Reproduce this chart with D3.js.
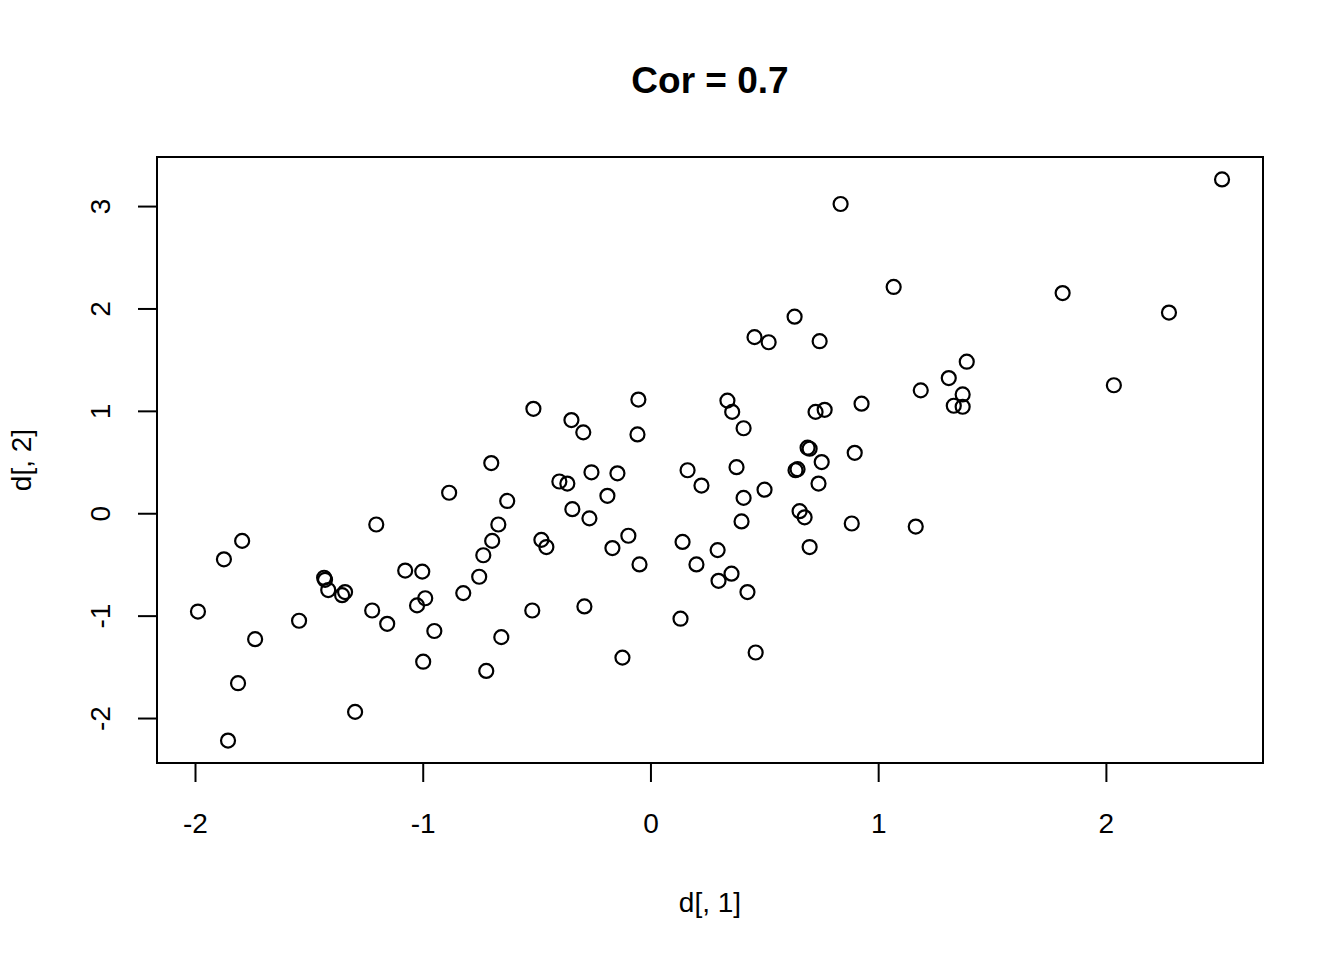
<!DOCTYPE html>
<html>
<head>
<meta charset="utf-8">
<script src="https://cdn.jsdelivr.net/npm/d3@7/dist/d3.min.js"></script>
<style>
  body { margin: 0; background: #fff; }
  text { font-family: "Liberation Sans", Arial, Helvetica, sans-serif; fill: #000; }
</style>
</head>
<body>
<svg id="chart" width="1344" height="960"></svg>
<script>
// d[, 1] and d[, 2] values
var xs = [2.51, 0.835, 1.068, 1.81, 2.277, 0.633, 0.457, 0.519, 0.743, 1.389,
  1.31, 1.187, 1.371, 2.035, 1.332, 1.371, 0.927, 0.338, 0.359, 0.725,
  0.765, -0.053, -0.514, -0.347, -0.295, -0.057, 0.409, 0.69, 0.699, 0.646,
  0.637, 0.378, 0.752, 0.897, -0.699, -0.259, -0.145, 0.163, 0.224, -0.4,
  -0.365, 0.738, 0.501, 0.409, -0.189, -0.884, -0.629, -0.343, -0.268, 0.655,
  0.677, 0.4, 0.884, 1.165, -1.204, -0.668, -1.793, -0.479, -0.457, -0.695,
  -0.097, 0.141, -0.167, 0.295, 0.699, -1.873, -0.734, -0.048, 0.202, -1.077,
  -1.002, 0.356, -0.752, -1.433, -1.429, 0.299, -1.415, -1.341, -1.354, -0.822,
  0.426, -0.989, -1.025, -0.29, -0.519, -1.987, -1.222, -1.543, -1.156, 0.132,
  -0.949, -0.655, -1.736, -0.998, -0.123, 0.462, -0.721, -1.811, -1.297, -1.855];
var ys = [3.26, 3.02, 2.21, 2.15, 1.96, 1.92, 1.72, 1.67, 1.68, 1.48,
  1.32, 1.2, 1.16, 1.25, 1.05, 1.04, 1.07, 1.1, 0.99, 0.99,
  1.01, 1.11, 1.02, 0.91, 0.79, 0.77, 0.83, 0.64, 0.63, 0.43,
  0.42, 0.45, 0.5, 0.59, 0.49, 0.4, 0.39, 0.42, 0.27, 0.31,
  0.29, 0.29, 0.23, 0.15, 0.17, 0.2, 0.12, 0.04, -0.05, 0.02,
  -0.04, -0.08, -0.1, -0.13, -0.11, -0.11, -0.27, -0.26, -0.33, -0.27,
  -0.22, -0.28, -0.34, -0.36, -0.33, -0.45, -0.41, -0.5, -0.5, -0.56,
  -0.57, -0.59, -0.62, -0.63, -0.65, -0.66, -0.75, -0.77, -0.8, -0.78,
  -0.77, -0.83, -0.9, -0.91, -0.95, -0.96, -0.95, -1.05, -1.08, -1.03,
  -1.15, -1.21, -1.23, -1.45, -1.41, -1.36, -1.54, -1.66, -1.94, -2.22];
var xTicks = [-2, -1, 0, 1, 2];
var yTicks = [-2, -1, 0, 1, 2, 3];
var title = 'Cor = 0.7';
var xLabel = 'd[, 1]';
var yLabel = 'd[, 2]';

var box = { left: 157, right: 1263, top: 157, bottom: 763 };
var svg = d3.select('#chart');

// R style: pad the data range by 4% on each side
function padded(v) {
  var ext = d3.extent(v), r = ext[1] - ext[0];
  return [ext[0] - 0.04 * r, ext[1] + 0.04 * r];
}
var x = d3.scaleLinear().domain(padded(xs)).range([box.left, box.right]);
var y = d3.scaleLinear().domain(padded(ys)).range([box.bottom, box.top]);
var plain = function (d) { return String(d); }; // hyphen minus, not unicode minus

svg.append('rect')
  .attr('x', box.left).attr('y', box.top)
  .attr('width', box.right - box.left).attr('height', box.bottom - box.top)
  .attr('fill', 'none').attr('stroke', '#000').attr('stroke-width', 2);

var xAxis = svg.append('g')
  .attr('transform', 'translate(0,' + box.bottom + ')')
  .call(d3.axisBottom(x).tickValues(xTicks).tickSize(19).tickPadding(31).tickFormat(plain));
var yAxis = svg.append('g')
  .attr('transform', 'translate(' + box.left + ',0)')
  .call(d3.axisLeft(y).tickValues(yTicks).tickSize(19).tickPadding(12).tickFormat(plain));

[xAxis, yAxis].forEach(function (g) {
  g.selectAll('path, line').attr('stroke', '#000').attr('stroke-width', 2);
  g.selectAll('text').style('font-size', '28px').attr('fill', '#000');
});
// axis line only spans the tick range, like R
xAxis.select('path.domain').attr('d', 'M' + x(-2) + ',0H' + x(2));
yAxis.select('path.domain').attr('d', 'M0,' + y(-2) + 'V' + y(3));

// y tick labels run vertically in R
yAxis.selectAll('.tick text')
  .attr('x', null).attr('dy', null)
  .attr('text-anchor', 'middle')
  .attr('transform', 'translate(-57,0) rotate(-90) translate(0,10)');

svg.append('g').selectAll('circle')
  .data(xs.map(function (v, i) { return [v, ys[i]]; }))
  .join('circle')
  .attr('cx', function (d) { return x(d[0]); })
  .attr('cy', function (d) { return y(d[1]); })
  .attr('r', 7)
  .attr('fill', 'none')
  .attr('stroke', '#000')
  .attr('stroke-width', 2.2);

svg.append('text')
  .attr('x', (box.left + box.right) / 2).attr('y', 93)
  .attr('text-anchor', 'middle')
  .style('font-size', '37px').style('font-weight', 'bold')
  .text(title);

svg.append('text')
  .attr('x', (box.left + box.right) / 2).attr('y', 912)
  .attr('text-anchor', 'middle')
  .style('font-size', '28px')
  .text(xLabel);

svg.append('text')
  .attr('transform', 'translate(31,' + (box.top + box.bottom) / 2 + ') rotate(-90)')
  .attr('text-anchor', 'middle')
  .style('font-size', '28px')
  .text(yLabel);
</script>
</body>
</html>
